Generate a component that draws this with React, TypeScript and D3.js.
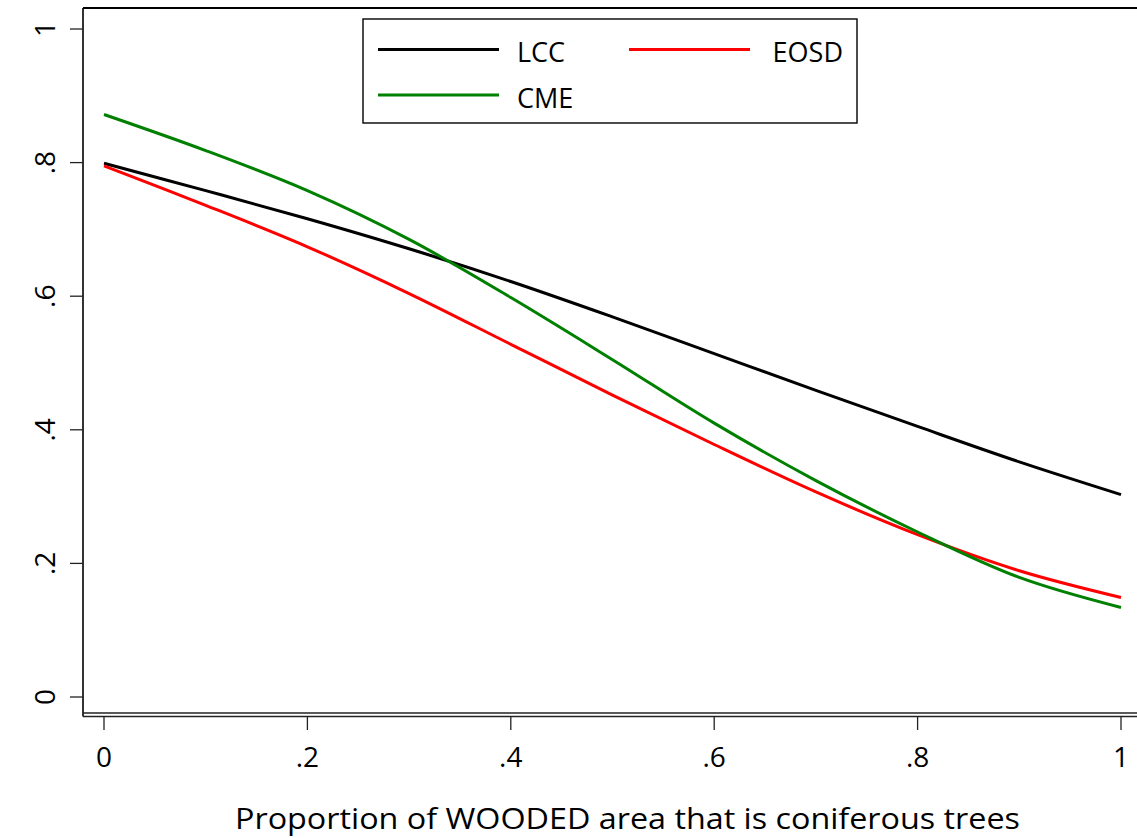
import React from 'react';
import * as d3 from 'd3';

// proportion of wooded area that is coniferous (x) and predicted values per source
const xs = [0, 0.1, 0.2, 0.3, 0.4, 0.5, 0.6, 0.7, 0.8, 0.9, 1];
const lcc = [0.799, 0.758, 0.716, 0.671, 0.622, 0.569, 0.514, 0.459, 0.405, 0.352, 0.303];
const eosd = [0.795, 0.736, 0.674, 0.604, 0.528, 0.452, 0.378, 0.307, 0.243, 0.189, 0.149];
const cme = [0.872, 0.818, 0.758, 0.685, 0.598, 0.505, 0.41, 0.324, 0.247, 0.179, 0.134];

const xTicks = [0, 0.2, 0.4, 0.6, 0.8, 1];
const yTicks = [0, 0.2, 0.4, 0.6, 0.8, 1];
const xTickLabels = ['0', '.2', '.4', '.6', '.8', '1'];
const yTickLabels = ['0', '.2', '.4', '.6', '.8', '1'];

const series = [
  { name: 'LCC', values: lcc, color: '#000000' },
  { name: 'EOSD', values: eosd, color: '#ff0000' },
  { name: 'CME', values: cme, color: '#008000' },
];

const W = 1137;
const H = 838;
const font = '"Open Sans", "Noto Sans", sans-serif';

export default function App() {
  const x = d3.scaleLinear().domain([0, 1]).range([104, 1121]);
  const y = d3.scaleLinear().domain([0, 1]).range([697, 29]);

  const line = d3
    .line<number>()
    .x((_, i) => x(xs[i]))
    .y((d) => y(d))
    .curve(d3.curveCatmullRom.alpha(0.5));

  const frameLeft = 83;
  const frameTop = 8;
  const frameBottom = 713;
  const axisY = 716.5;

  return (
    <svg
      width={W}
      height={H}
      style={{ position: 'absolute', left: 0, top: 0, background: '#fff' }}
      fontFamily={font}
    >
      <rect x={0} y={0} width={W} height={H} fill="#fff" />

      {/* plot frame */}
      <line x1={frameLeft} x2={W} y1={frameTop} y2={frameTop} stroke="#000" strokeWidth={2} />
      <line x1={frameLeft} x2={frameLeft} y1={frameTop} y2={axisY} stroke="#000" strokeWidth={1.6} />
      <line x1={frameLeft} x2={W} y1={frameBottom} y2={frameBottom} stroke="#222" strokeWidth={1.4} />
      <line x1={frameLeft} x2={W} y1={axisY} y2={axisY} stroke="#222" strokeWidth={1.4} />

      {/* y axis */}
      {yTicks.map((t, i) => (
        <g key={'y' + i}>
          <line x1={70} x2={frameLeft} y1={y(t)} y2={y(t)} stroke="#222" strokeWidth={1.3} />
          <text
            transform={`translate(55,${y(t)}) rotate(-90)`}
            textAnchor="middle"
            fontSize={28}
            fill="#000"
          >
            {yTickLabels[i]}
          </text>
        </g>
      ))}

      {/* x axis */}
      {xTicks.map((t, i) => (
        <g key={'x' + i}>
          <line x1={x(t)} x2={x(t)} y1={axisY} y2={730} stroke="#222" strokeWidth={1.3} />
          <text x={x(t)} y={767} textAnchor="middle" fontSize={28} fill="#000">
            {xTickLabels[i]}
          </text>
        </g>
      ))}

      <text
        x={627.5}
        y={829}
        textAnchor="middle"
        fontSize={30}
        fill="#000"
        textLength={785}
        lengthAdjust="spacingAndGlyphs"
      >
        Proportion of WOODED area that is coniferous trees
      </text>

      {/* curves */}
      {series.map((s) => (
        <path key={s.name} d={line(s.values) || ''} fill="none" stroke={s.color} strokeWidth={3} />
      ))}

      {/* legend */}
      <rect x={363} y={19} width={494} height={104} fill="#fff" stroke="#000" strokeWidth={1.4} />
      <line x1={378} x2={499} y1={49.5} y2={49.5} stroke={series[0].color} strokeWidth={3} />
      <text x={517} y={62} fontSize={27} fill="#000">{series[0].name}</text>
      <line x1={629} x2={750} y1={49.5} y2={49.5} stroke={series[1].color} strokeWidth={3} />
      <text x={843} y={62} fontSize={27} fill="#000" textAnchor="end">{series[1].name}</text>
      <line x1={378} x2={499} y1={95} y2={95} stroke={series[2].color} strokeWidth={3} />
      <text x={517} y={108} fontSize={27} fill="#000">{series[2].name}</text>
    </svg>
  );
}
